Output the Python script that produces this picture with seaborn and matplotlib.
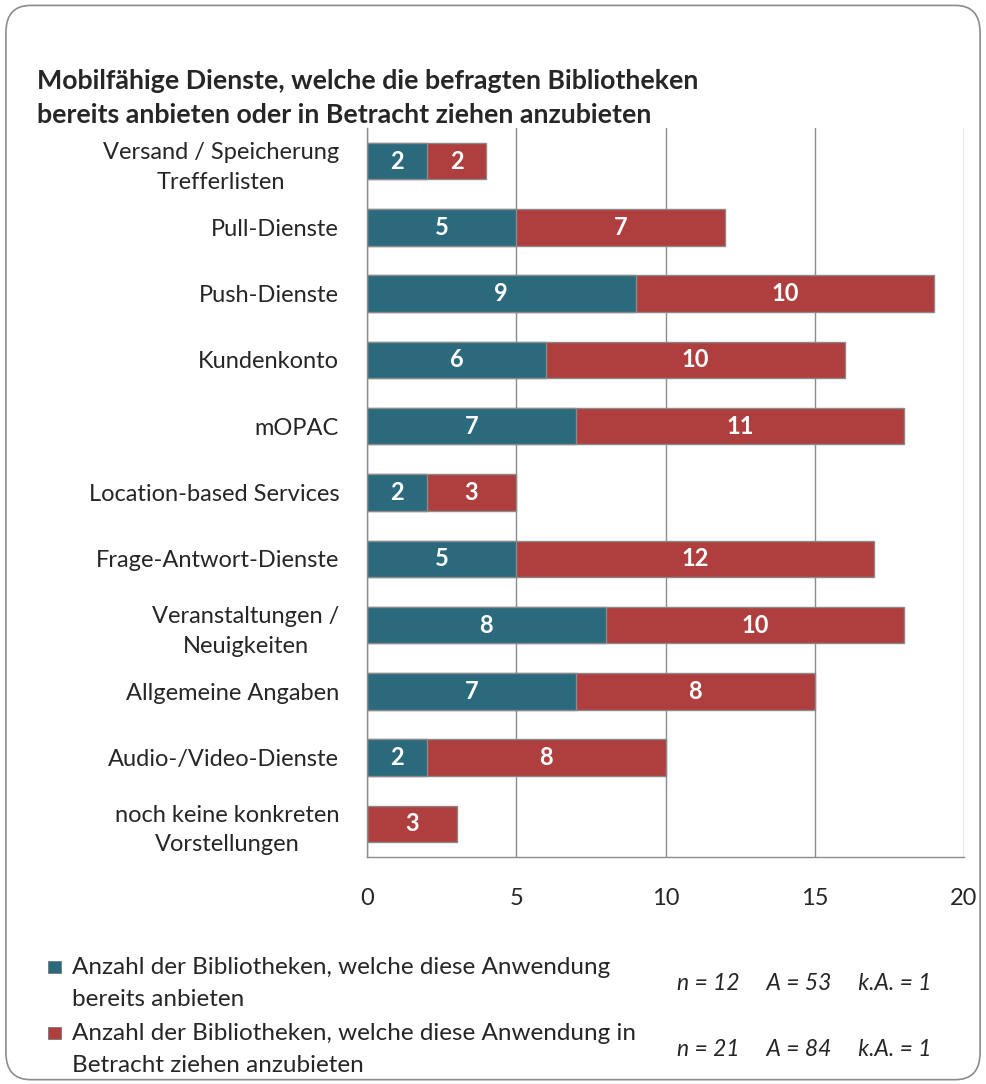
import matplotlib
matplotlib.use("Agg")
import matplotlib.pyplot as plt
from matplotlib.patches import FancyBboxPatch, Rectangle
import numpy as np
import pandas as pd
import seaborn as sns

# ─── Data ─────────────────────────────────────────────────────────────────────
categories = [
    "Versand / Speicherung\nTrefferlisten",
    "Pull-Dienste",
    "Push-Dienste",
    "Kundenkonto",
    "mOPAC",
    "Location-based Services",
    "Frage-Antwort-Dienste",
    "Veranstaltungen /\nNeuigkeiten",
    "Allgemeine Angaben",
    "Audio-/Video-Dienste",
    "noch keine konkreten\nVorstellungen",
]
bereits = [2, 5, 9, 6, 7, 2, 5, 8, 7, 2, 0]
betracht = [2, 7, 10, 10, 11, 3, 12, 10, 8, 8, 3]
x_ticks = [0, 5, 10, 15, 20]

title = ("Mobilfähige Dienste, welche die befragten Bibliotheken\n"
         "bereits anbieten oder in Betracht ziehen anzubieten")
legend_labels = [
    "Anzahl der Bibliotheken, welche diese Anwendung\nbereits anbieten",
    "Anzahl der Bibliotheken, welche diese Anwendung in\nBetracht ziehen anzubieten",
]
stats = ["n = 12     A = 53     k.A. = 1", "n = 21     A = 84     k.A. = 1"]

TEAL = "#2B6A7C"
RED = "#AE3F3E"

sns.set_style("white")
plt.rcParams["font.family"] = ["Lato", "DejaVu Sans"]

df = pd.DataFrame({"cat": categories, "bereits": bereits, "betracht": betracht})
df["total"] = df["bereits"] + df["betracht"]

fig = plt.figure(figsize=(9.86, 10.84), dpi=100)
ax = fig.add_axes([0.3722, 0.2094, 0.6055, 0.6726])

# stacked: total in red underneath, "bereits" in teal on top
sns.barplot(data=df, y="cat", x="total", color=RED, orient="h", width=0.55,
            edgecolor="#8a8a8a", linewidth=1.0, saturation=1, ax=ax)
sns.barplot(data=df, y="cat", x="bereits", color=TEAL, orient="h", width=0.55,
            edgecolor="#8a8a8a", linewidth=1.0, saturation=1, ax=ax)

for i, (b, r) in enumerate(zip(bereits, betracht)):
    if b > 0:
        ax.text(b / 2, i, str(b), ha="center", va="center", color="white",
                fontsize=17, fontweight="bold")
    if r > 0:
        ax.text(b + r / 2, i, str(r), ha="center", va="center", color="white",
                fontsize=17, fontweight="bold")

ax.set_xlim(0, 20)
ax.set_ylim(len(categories) - 0.5, -0.5)
ax.set_xticks(x_ticks)
ax.set_xlabel("")
ax.set_ylabel("")
ax.xaxis.grid(True, color="#8c8c8c", linewidth=1.0)
ax.set_axisbelow(True)
for s in ["top", "right"]:
    ax.spines[s].set_visible(False)
for s in ["left", "bottom"]:
    ax.spines[s].set_color("#8c8c8c")
    ax.spines[s].set_linewidth(1.0)

ax.tick_params(axis="x", direction="out", length=6, color="#8c8c8c",
               labelsize=17, pad=16)
ax.tick_params(axis="y", which="major", length=0, labelsize=17, pad=20)
ax.set_yticks(np.arange(-0.5, len(categories), 1.0), minor=True)
ax.tick_params(axis="y", which="minor", direction="out", length=7,
               color="#8c8c8c")
for lab in ax.get_yticklabels():
    lab.set_multialignment("center")
    lab.set_linespacing(1.5)

fig.text(0.0375, 0.9095, title, fontsize=19.3, fontweight="bold", ha="left",
         va="center", linespacing=1.5)

# legend
leg_y = [0.0927, 0.0318]
for y, lab, col, st in zip(leg_y, legend_labels, [TEAL, RED], stats):
    fig.patches.append(Rectangle((0.049, y + 0.0095), 0.013, 0.011,
                                 transform=fig.transFigure, facecolor=col,
                                 edgecolor="#777777", linewidth=0.6))
    fig.text(0.073, y, lab, fontsize=17.5, ha="left", va="center",
             linespacing=1.7)
    fig.text(0.8155, y, st, fontsize=16.5, ha="center", va="center",
             style="italic")

# rounded outer frame
fig.patches.append(FancyBboxPatch((0.006, 0.004), 0.988, 0.991,
                                  boxstyle="round,pad=0,rounding_size=0.025",
                                  transform=fig.transFigure, fill=False,
                                  edgecolor="#8c8c8c", linewidth=1.2))

fig.savefig("out.png", dpi=100)
